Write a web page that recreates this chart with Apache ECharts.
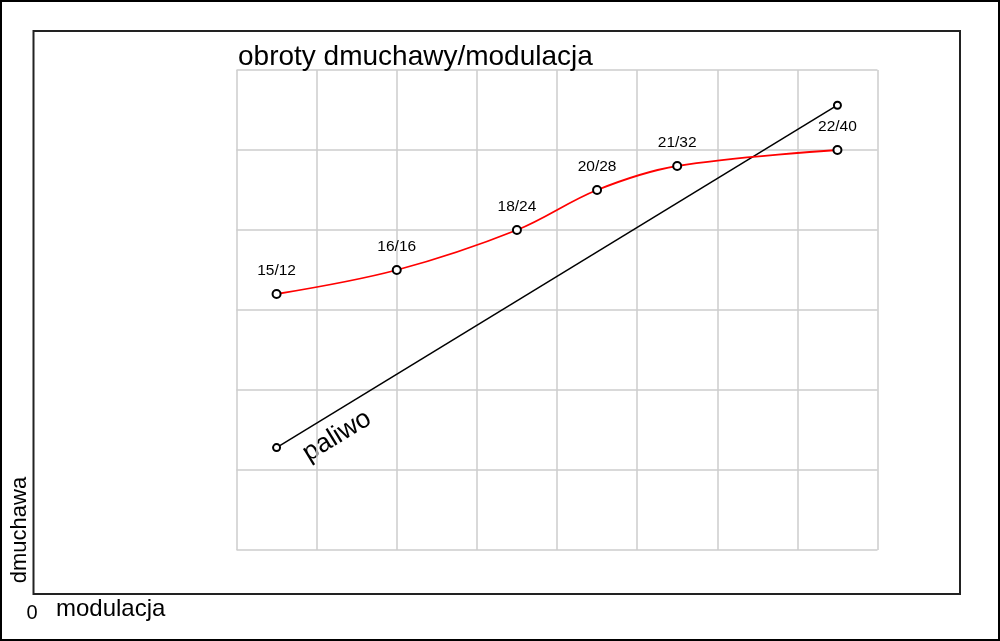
<!DOCTYPE html>
<html>
<head>
<meta charset="utf-8">
<script src="https://cdn.jsdelivr.net/npm/echarts@6/dist/echarts.min.js"></script>
<style>
html,body{margin:0;padding:0;background:#fff;}
#c{width:1000px;height:641px;}
</style>
</head>
<body>
<div id="c"></div>
<script>
// data
const blowerX = [0.5, 2, 3.5, 4.5, 5.5, 7.5];
const blowerY = [3.2, 3.5, 4.0, 4.5, 4.8, 5.0];
const blowerLabels = ['15/12', '16/16', '18/24', '20/28', '21/32', '22/40'];
const fuelX = [0.5, 7.5];
const fuelY = [1.28, 5.56];
const titleText = 'obroty dmuchawy/modulacja';
const fuelLabel = 'paliwo';
const yAxisName = 'dmuchawa';
const xAxisName = 'modulacja';
const originLabel = '0';

const font = 'Arial, "Liberation Sans", Helvetica, sans-serif';
const chart = echarts.init(document.getElementById('c'));

const blowerData = blowerX.map((x, i) => [x, blowerY[i]]);
const fuelData = fuelX.map((x, i) => [x, fuelY[i]]);

chart.setOption({
  animation: false,
  backgroundColor: '#fff',
  title: {
    text: titleText,
    left: 233,
    top: 38,
    textStyle: { fontFamily: font, fontSize: 28, fontWeight: 'normal', color: '#000' }
  },
  grid: { left: 236.5, top: 70, width: 641, height: 480 },
  xAxis: {
    type: 'value', min: 0, max: 8, interval: 1,
    axisLine: { show: false }, axisTick: { show: false }, axisLabel: { show: false },
    splitLine: { show: true, lineStyle: { color: '#cccccc', width: 1.5 } }
  },
  yAxis: {
    type: 'value', min: 0, max: 6, interval: 1,
    axisLine: { show: false }, axisTick: { show: false }, axisLabel: { show: false },
    splitLine: { show: true, lineStyle: { color: '#cccccc', width: 1.5 } }
  },
  series: [
    {
      type: 'line',
      data: fuelData,
      symbol: 'emptyCircle',
      symbolSize: 7,
      lineStyle: { color: '#000', width: 1.5 },
      itemStyle: { color: '#000', borderColor: '#000', borderWidth: 1.5 },
      z: 2
    },
    {
      type: 'line',
      data: blowerData,
      smooth: 0.35,
      symbol: 'emptyCircle',
      symbolSize: 8,
      color: '#000',
      lineStyle: { color: '#ff0000', width: 1.8 },
      itemStyle: { color: '#000', borderColor: '#000', borderWidth: 1.6 },
      label: {
        show: true,
        position: 'top',
        distance: 10,
        formatter: p => blowerLabels[p.dataIndex],
        fontFamily: font,
        fontSize: 15.5,
        color: '#000'
      },
      z: 3
    }
  ],
  graphic: [
    { type: 'rect', shape: { x: 1, y: 1, width: 998, height: 639 }, style: { fill: 'none', stroke: '#000', lineWidth: 2 }, silent: true },
    { type: 'rect', shape: { x: 33.5, y: 31, width: 926.5, height: 563 }, style: { fill: 'none', stroke: '#222', lineWidth: 2 }, silent: true },
    { type: 'text', x: 337, y: 436, rotation: 31.3 * Math.PI / 180,
      style: { text: fuelLabel, font: '26.5px ' + font, fill: '#000', align: 'center', verticalAlign: 'middle' } },
    { type: 'text', x: 20, y: 530, rotation: Math.PI / 2,
      style: { text: yAxisName, font: '22px ' + font, fill: '#000', align: 'center', verticalAlign: 'middle' } },
    { type: 'text', x: 32, y: 613,
      style: { text: originLabel, font: '20px ' + font, fill: '#000', align: 'center', verticalAlign: 'middle' } },
    { type: 'text', x: 56, y: 609,
      style: { text: xAxisName, font: '24px ' + font, fill: '#000', align: 'left', verticalAlign: 'middle' } }
  ]
});
</script>
</body>
</html>
